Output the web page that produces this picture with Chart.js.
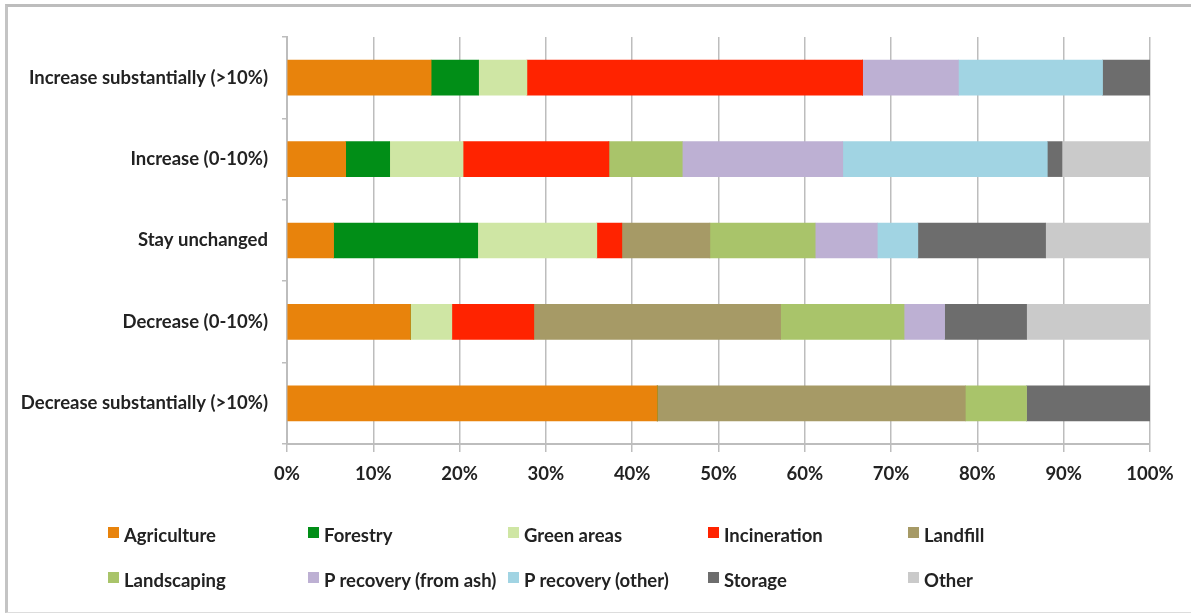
<!DOCTYPE html>
<html>
<head>
<meta charset="utf-8">
<script src="https://cdn.jsdelivr.net/npm/chart.js@4/dist/chart.umd.min.js"></script>
<style>
    html, body { margin: 0; padding: 0; background: #fff; }
    #wrap { position: relative; width: 1191px; height: 616px; overflow: hidden; }
    #frame { position: absolute; left: 5px; top: 4px; right: -5px; bottom: 3px;
             border-top: 3px solid #bdbdbd; border-left: 3px solid #c4c4c4; border-bottom: 1px solid #dddddd; }
    #myChart { position: absolute; left: 0; top: 0; }
    .legend-item { position: absolute; height: 20px; line-height: 20px; font-family: Lato, sans-serif;
                   font-weight: bold; font-size: 18.5px; color: #222; white-space: nowrap; }
    .legend-box { position: absolute; left: 0; top: 2px; width: 11px; height: 11px; }
    .legend-text { position: absolute; left: 16px; top: 0; }
</style>
</head>
<body>
<div id="wrap">
    <div id="frame"></div>
    <canvas id="myChart" width="1191" height="616"></canvas>
    <div id="legend"></div>
</div>
<script>
const categories = [
    'Increase substantially (>10%)',
    'Increase (0-10%)',
    'Stay unchanged',
    'Decrease (0-10%)',
    'Decrease substantially (>10%)'
];
const xTicks = [0, 10, 20, 30, 40, 50, 60, 70, 80, 90, 100];

const agriculture  = [16.7, 6.8, 5.4, 14.3, 42.9];
const forestry     = [5.5, 5.1, 16.7, 0, 0];
const greenAreas   = [5.6, 8.5, 13.8, 4.8, 0];
const incineration = [38.9, 16.9, 2.9, 9.5, 0];
const landfill     = [0, 0, 10.2, 28.6, 35.7];
const landscaping  = [0, 8.5, 12.2, 14.3, 7.1];
const pRecoveryAsh = [11.1, 18.6, 7.2, 4.7, 0];
const pRecoveryOth = [16.7, 23.7, 4.7, 0, 0];
const storage      = [5.5, 1.7, 14.8, 9.5, 14.3];
const other        = [0, 10.2, 12.1, 14.3, 0];

const seriesNames = ['Agriculture', 'Forestry', 'Green areas', 'Incineration', 'Landfill',
    'Landscaping', 'P recovery (from ash)', 'P recovery (other)', 'Storage', 'Other'];
const seriesData = [agriculture, forestry, greenAreas, incineration, landfill,
    landscaping, pRecoveryAsh, pRecoveryOth, storage, other];
const seriesColors = ['#e8830c', '#018e17', '#cfe6a4', '#ff2300', '#a69a66',
    '#a9c46a', '#bdb0d3', '#a1d4e3', '#6d6d6d', '#cacaca'];

const gridColor = '#bdbdbd';

Chart.defaults.font.family = 'Lato, sans-serif';
Chart.defaults.font.weight = 'bold';
Chart.defaults.font.size = 18.5;
Chart.defaults.color = '#222';

const ctx = document.getElementById('myChart').getContext('2d');
const myChart = new Chart(ctx, {
    type: 'bar',
    data: {
        labels: categories,
        datasets: seriesNames.map((name, i) => ({
            label: name,
            data: seriesData[i],
            backgroundColor: seriesColors[i],
            borderWidth: 0,
            barThickness: 35
        }))
    },
    options: {
        indexAxis: 'y',
        responsive: false,
        animation: false,
        layout: {
            padding: { left: 0, top: 37, right: 41, bottom: 122 }
        },
        plugins: {
            legend: { display: false },
            tooltip: { enabled: false }
        },
        scales: {
            x: {
                stacked: true,
                min: 0,
                max: 100,
                afterBuildTicks: s => { s.ticks = xTicks.map(v => ({ value: v })); },
                afterFit: s => { s.height = 50; },
                ticks: {
                    padding: 11,
                    callback: v => v + '%'
                },
                grid: {
                    color: gridColor,
                    lineWidth: 1.5,
                    tickLength: 8
                },
                border: { color: gridColor, width: 2 }
            },
            y: {
                stacked: true,
                afterFit: s => { s.width = 287; },
                ticks: { padding: 14 },
                grid: {
                    offset: true,
                    drawOnChartArea: false,
                    color: gridColor,
                    lineWidth: 1.5,
                    tickLength: 5
                },
                border: { color: gridColor, width: 2 }
            }
        }
    }
});

// legend laid out in fixed columns, like the original
const legend = document.getElementById('legend');
seriesNames.forEach((name, i) => {
    const item = document.createElement('div');
    item.className = 'legend-item';
    item.style.left = (108 + (i % 5) * 200) + 'px';
    item.style.top = (525 + Math.floor(i / 5) * 45) + 'px';
    item.innerHTML = '<span class="legend-box" style="background:' + seriesColors[i] + '"></span>' +
        '<span class="legend-text">' + name + '</span>';
    legend.appendChild(item);
});
</script>
</body>
</html>
